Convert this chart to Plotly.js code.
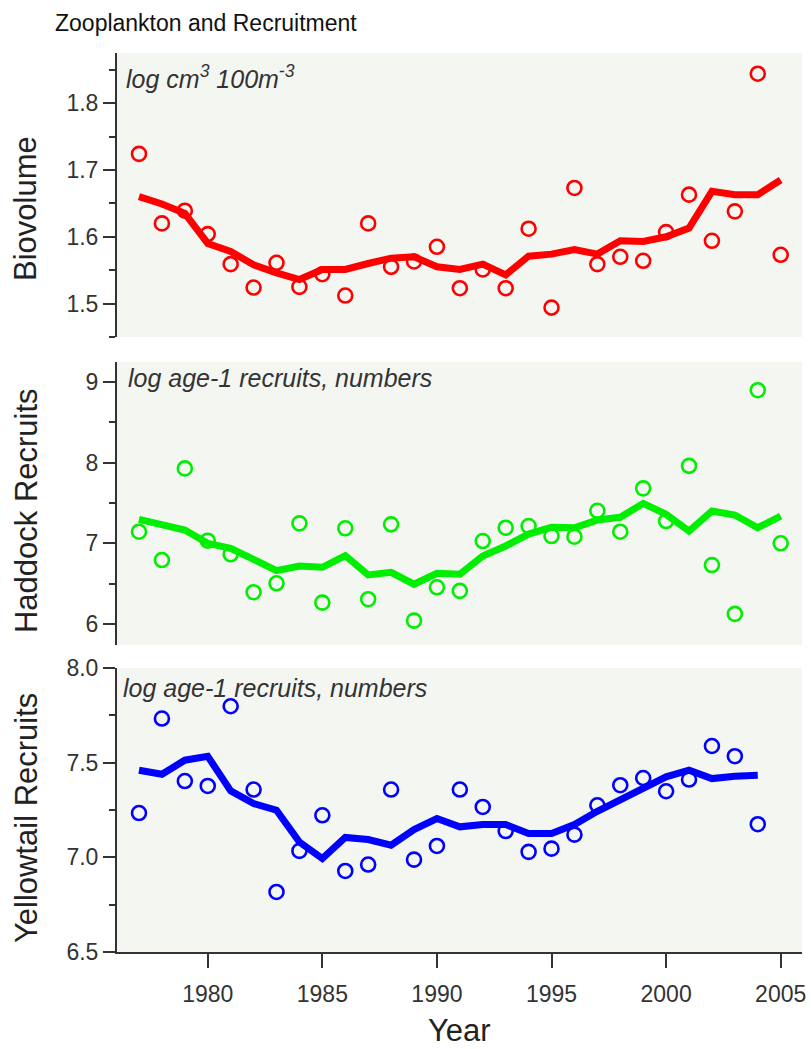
<!DOCTYPE html>
<html>
<head>
<meta charset="utf-8">
<script src="https://cdn.plot.ly/plotly-3.0.1.min.js"></script>
<style>html,body{margin:0;padding:0;background:#fff;}#chart{width:811px;height:1049px;}</style>
</head>
<body>
<div id="chart"></div>
<script>
const years = [1977,1978,1979,1980,1981,1982,1983,1984,1985,1986,1987,1988,1989,1990,1991,1992,1993,1994,1995,1996,1997,1998,1999,2000,2001,2002,2003,2004,2005];

const bioPoints = [1.724,1.620,1.639,1.604,1.559,1.524,1.561,1.525,1.544,1.512,1.620,1.555,1.563,1.585,1.523,1.551,1.523,1.612,1.494,1.673,1.559,1.570,1.564,1.607,1.663,1.594,1.638,1.844,1.573];
const bioSmooth = [1.660,1.649,1.635,1.590,1.578,1.558,1.546,1.536,1.551,1.551,1.560,1.568,1.570,1.555,1.551,1.559,1.543,1.571,1.574,1.581,1.574,1.594,1.593,1.600,1.613,1.668,1.663,1.663,1.685];

const hadPoints = [7.144,6.793,7.928,7.032,6.864,6.394,6.505,7.247,6.265,7.186,6.307,7.235,6.042,6.455,6.410,7.028,7.193,7.214,7.090,7.082,7.403,7.144,7.681,7.276,7.960,6.731,6.125,8.897,7.000];
const hadSmooth = [7.297,7.226,7.165,7.000,6.938,6.802,6.661,6.719,6.703,6.847,6.608,6.641,6.493,6.629,6.616,6.843,6.967,7.115,7.198,7.193,7.288,7.322,7.495,7.359,7.152,7.400,7.350,7.193,7.338];

const ytYears = [1977,1978,1979,1980,1981,1982,1983,1984,1985,1986,1987,1988,1989,1990,1991,1992,1993,1994,1995,1996,1997,1998,1999,2000,2001,2002,2003,2004];
const ytPoints = [7.234,7.733,7.403,7.377,7.798,7.358,6.817,7.034,7.222,6.928,6.962,7.358,6.988,7.060,7.358,7.266,7.139,7.029,7.046,7.120,7.275,7.381,7.419,7.349,7.411,7.588,7.534,7.175];
const ytSmooth = [7.460,7.439,7.513,7.534,7.351,7.284,7.249,7.081,6.994,7.105,7.094,7.064,7.147,7.205,7.161,7.173,7.173,7.126,7.126,7.173,7.243,7.305,7.363,7.425,7.460,7.416,7.428,7.433];

const xTickVals = [1980,1985,1990,1995,2000,2005];

const FONT = '"Liberation Sans", Arial, sans-serif';
const TXT = '#333333';

function pts(x, y, yaxis, color) {
  return {x: x, y: y, yaxis: yaxis, type: 'scatter', mode: 'markers',
    marker: {symbol: 'circle-open', size: 14, color: color, line: {width: 2.6, color: color}},
    showlegend: false, hoverinfo: 'x+y'};
}
function line(x, y, yaxis, color) {
  return {x: x, y: y, yaxis: yaxis, type: 'scatter', mode: 'lines',
    line: {color: color, width: 7}, showlegend: false, hoverinfo: 'x+y'};
}

const data = [
  pts(years, bioPoints, 'y', '#ff0000'),
  line(years, bioSmooth, 'y', '#ff0000'),
  pts(years, hadPoints, 'y2', '#00ee00'),
  line(years, hadSmooth, 'y2', '#00ee00'),
  pts(ytYears, ytPoints, 'y3', '#0000ff'),
  line(ytYears, ytSmooth, 'y3', '#0000ff')
];

function yax(domain, range, dtick, minorDtick, fmt) {
  return {
    domain: domain, range: range, dtick: dtick, tick0: 0,
    tickformat: fmt,
    showgrid: false, zeroline: false,
    showline: true, linecolor: '#333', linewidth: 2,
    ticks: 'outside', ticklen: 12, tickwidth: 2, tickcolor: '#333',
    minor: {dtick: minorDtick, ticks: 'outside', ticklen: 6, tickwidth: 2, tickcolor: '#333', showgrid: false},
    tickfont: {family: FONT, size: 23, color: TXT},
    fixedrange: true
  };
}

const layout = {
  width: 811, height: 1049,
  margin: {l: 117, r: 9, t: 53, b: 97},
  paper_bgcolor: '#ffffff',
  plot_bgcolor: '#f4f6f2',
  font: {family: FONT, color: TXT},
  showlegend: false,
  title: {text: 'Zooplankton and Recruitment', font: {family: FONT, size: 23, color: '#111'},
    x: 55/811, xanchor: 'left', xref: 'container', y: 1 - 23/1049, yref: 'container', yanchor: 'middle'},
  xaxis: {
    anchor: 'y3', range: [1976.04, 2005.93],
    tickvals: xTickVals, ticktext: xTickVals.map(String),
    showgrid: false, zeroline: false,
    showline: true, linecolor: '#333', linewidth: 2,
    ticks: 'outside', ticklen: 14, tickwidth: 2, tickcolor: '#333',
    ticklabelstandoff: 6,
    tickfont: {family: FONT, size: 23, color: TXT},
    fixedrange: true
  },
  yaxis: yax([0.6841, 1], [1.45, 1.875], 0.1, 0.05, '.1f'),
  yaxis2: yax([0.3415, 0.6566], [5.74, 9.25], 1, 0.5, 'd'),
  yaxis3: yax([0, 0.3159], [6.5, 8.0], 0.5, 0.25, '.1f'),
  annotations: [
    {text: 'Biovolume', xref: 'paper', yref: 'paper', x: 0, xshift: -91, y: 0.8265,
     textangle: -90, showarrow: false, xanchor: 'center', yanchor: 'middle', font: {family: FONT, size: 31, color: '#222'}},
    {text: 'Haddock Recruits', xref: 'paper', yref: 'paper', x: 0, xshift: -91, y: 0.4905,
     textangle: -90, showarrow: false, xanchor: 'center', yanchor: 'middle', font: {family: FONT, size: 31, color: '#222'}},
    {text: 'Yellowtail Recruits', xref: 'paper', yref: 'paper', x: 0, xshift: -91, y: 0.149,
     textangle: -90, showarrow: false, xanchor: 'center', yanchor: 'middle', font: {family: FONT, size: 31, color: '#222'}},
    {text: 'Year', xref: 'paper', yref: 'paper', x: 0.5, y: -0.0868,
     showarrow: false, xanchor: 'center', yanchor: 'middle', font: {family: FONT, size: 31, color: '#222'}},
    {text: '<i>log cm<sup>3</sup> 100m<sup>-3</sup></i>', xref: 'paper', yref: 'paper', x: 0, xshift: 7, y: (952-77)/899,
     showarrow: false, xanchor: 'left', yanchor: 'middle', font: {family: FONT, size: 25, color: TXT}},
    {text: '<i>log age-1 recruits, numbers</i>', xref: 'paper', yref: 'paper', x: 0, xshift: 9, y: (952-378)/899,
     showarrow: false, xanchor: 'left', yanchor: 'middle', font: {family: FONT, size: 25, color: TXT}},
    {text: '<i>log age-1 recruits, numbers</i>', xref: 'paper', yref: 'paper', x: 0, xshift: 4, y: (952-688)/899,
     showarrow: false, xanchor: 'left', yanchor: 'middle', font: {family: FONT, size: 25, color: TXT}}
  ]
};

Plotly.newPlot('chart', data, layout, {displayModeBar: false, staticPlot: true});
</script>
</body>
</html>
